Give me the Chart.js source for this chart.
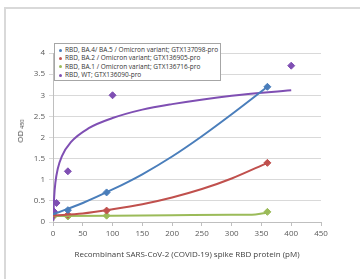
<!DOCTYPE html>
<html>
<head>
<meta charset="utf-8">
<script src="https://cdn.jsdelivr.net/npm/chart.js@4.4.0/dist/chart.umd.min.js"></script>
<style>
  body { margin: 0; background: #fff; font-family: "Open Sans", sans-serif; }
  #wrap { position: relative; width: 360px; height: 279px; overflow: hidden; }
  #frame { position: absolute; left: 4px; top: 7px; width: 400px; height: 300px;
           border-left: 2px solid #d9d9d9; border-top: 2px solid #d9d9d9; }
  #legend { position: absolute; left: 54px; top: 43px; width: 167px; height: 38px;
            border: 1px solid #a6a6a6; background: #fff; font-size: 6.5px; color: #333;
            padding: 2px 0 0 4px; box-sizing: border-box; line-height: 8.3px; }
  #legend span.dot { display: inline-block; width: 3px; height: 3px; border-radius: 50%;
                     margin-right: 3px; vertical-align: middle; }
  #ytitle { position: absolute; left: 20px; top: 131px; transform: translate(-50%, -50%) rotate(-90deg);
            font-size: 8px; color: #404040; white-space: nowrap; }
  #ytitle sub { font-size: 5.5px; vertical-align: -1px; margin-left: 2px; }
  #c { position: absolute; left: 0; top: 0; }
</style>
</head>
<body>
<div id="wrap">
  <div id="frame"></div>
  <canvas id="c" width="360" height="279"></canvas>
  <div id="legend"></div>
  <div id="ytitle">OD<sub>450</sub></div>
</div>
<script>
const seriesNames = [
  'RBD, BA.4/ BA.5 / Omicron variant; GTX137098-pro',
  'RBD, BA.2 / Omicron variant; GTX136905-pro',
  'RBD, BA.1 / Omicron variant; GTX136716-pro',
  'RBD, WT; GTX136090-pro'
]
const colors = ['#4a7ebb', '#c0504d', '#9bbb59', '#7f4fb3']

// measured points (x = pM, y = OD450)
const ba45X = [0, 25, 90, 360]
const ba45Y = [0.18, 0.28, 0.7, 3.2]
const ba2X = [0, 25, 90, 360]
const ba2Y = [0.15, 0.17, 0.27, 1.4]
const ba1X = [0, 25, 90, 360]
const ba1Y = [0.12, 0.13, 0.15, 0.24]
const wtX = [0, 1.5, 6, 25, 100, 400]
const wtY = [0.2, 0.25, 0.45, 1.2, 3.0, 3.7]

// trend lines
const ba45TrendX = [0, 50, 100, 150, 200, 250, 300, 360]
const ba45TrendY = [0.18, 0.45, 0.77, 1.13, 1.55, 2.03, 2.55, 3.2]
const ba2TrendX = [0, 50, 100, 150, 200, 250, 300, 360]
const ba2TrendY = [0.15, 0.2, 0.3, 0.42, 0.58, 0.78, 1.03, 1.4]
const ba1TrendX = [0, 100, 200, 300, 340, 360]
const ba1TrendY = [0.14, 0.15, 0.16, 0.17, 0.18, 0.22]
const wtTrendX = [0.6, 1, 2, 4, 8, 15, 30, 60, 100, 150, 200, 300, 400]
const wtTrendY = [0.03, 0.27, 0.6, 0.93, 1.26, 1.56, 1.89, 2.22, 2.46, 2.66, 2.79, 2.99, 3.12]

const yTicks = [0, 0.5, 1, 1.5, 2, 2.5, 3, 3.5, 4]

function pts(xs, ys) {
  return xs.map((x, i) => ({ x: x, y: ys[i] }))
}

const trends = [
  [ba45TrendX, ba45TrendY], [ba2TrendX, ba2TrendY], [ba1TrendX, ba1TrendY], [wtTrendX, wtTrendY]
]
const marks = [[ba45X, ba45Y], [ba2X, ba2Y], [ba1X, ba1Y], [wtX, wtY]]

const datasets = []
trends.forEach((t, i) => {
  datasets.push({
    data: pts(t[0], t[1]),
    borderColor: colors[i],
    borderWidth: 2,
    pointRadius: 0,
    showLine: true,
    cubicInterpolationMode: 'monotone',
    fill: false
  })
})
marks.forEach((m, i) => {
  datasets.push({
    label: seriesNames[i],
    data: pts(m[0], m[1]),
    showLine: false,
    pointStyle: 'rectRot',
    pointRadius: 3.5,
    backgroundColor: colors[i],
    borderColor: colors[i]
  })
})

// html legend
const leg = document.getElementById('legend')
seriesNames.forEach((name, i) => {
  const d = document.createElement('div')
  d.innerHTML = '<span class="dot" style="background:' + colors[i] + '"></span>' + name
  leg.appendChild(d)
})

const tickFont = { family: 'Open Sans', size: 8 }
new Chart(document.getElementById('c'), {
  type: 'scatter',
  data: { datasets: datasets },
  options: {
    responsive: false,
    animation: false,
    layout: { padding: { left: 0, right: 39, top: 53, bottom: 17 } },
    plugins: { legend: { display: false }, tooltip: { enabled: false } },
    scales: {
      x: {
        type: 'linear',
        min: 0,
        max: 450,
        ticks: { stepSize: 50, color: '#595959', font: tickFont, padding: 3 },
        grid: { drawOnChartArea: false, color: '#bfbfbf', tickLength: 4 },
        border: { color: '#bfbfbf' },
        title: {
          display: true,
          text: 'Recombinant SARS-CoV-2 (COVID-19) spike RBD protein (pM)',
          color: '#404040',
          font: { family: 'Open Sans', size: 8 },
          padding: { top: 6, bottom: 2 }
        },
        afterFit: s => { s.height = 40 }
      },
      y: {
        min: 0,
        max: 4,
        afterBuildTicks: s => { s.ticks = yTicks.map(v => ({ value: v })) },
        ticks: { color: '#595959', font: tickFont, padding: 4, callback: v => String(v) },
        grid: { color: '#d9d9d9', tickLength: 4 },
        border: { color: '#bfbfbf' },
        afterFit: s => { s.width = 53 }
      }
    }
  }
})
</script>
</body>
</html>
